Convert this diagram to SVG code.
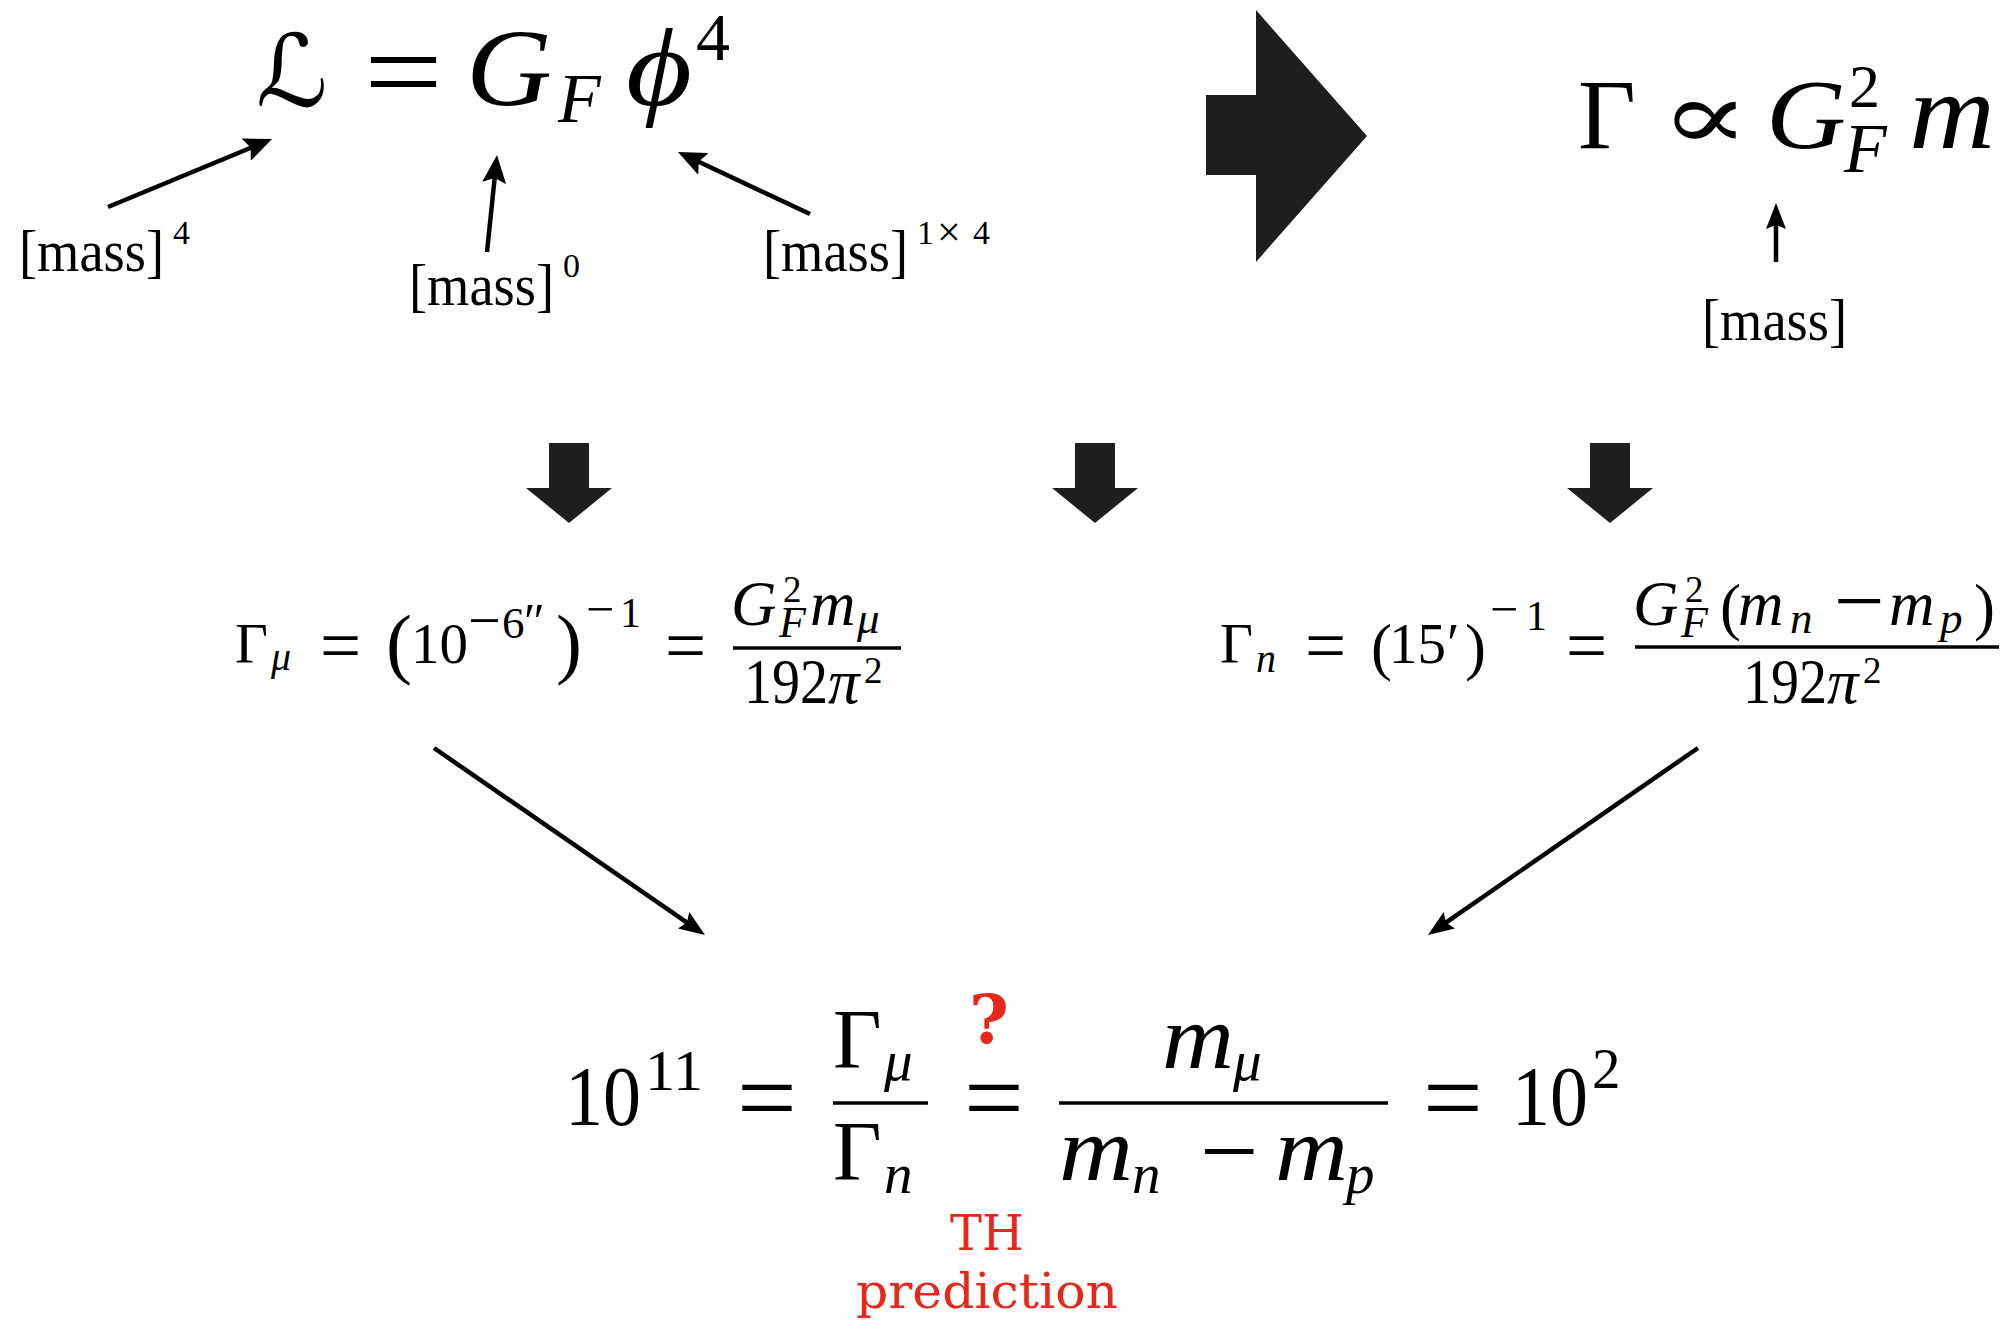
<svg xmlns="http://www.w3.org/2000/svg" width="2006" height="1320" viewBox="0 0 2006 1320" font-family="'Liberation Serif', 'DejaVu Serif', serif">
<style>
text{font-family:'Liberation Serif','DejaVu Serif',serif;fill:#000}
.it{font-style:italic}
.sc{font-family:'DejaVu Serif','DejaVu Sans',serif}
.red{font-family:'DejaVu Serif',serif;fill:#e6281b}
.big{fill:#1e1e1e}
.ln{stroke:#000;stroke-width:4.5;fill:none}
.bar{stroke:#000;stroke-width:3.5}
</style>
<defs>
<marker id="ah" markerUnits="userSpaceOnUse" viewBox="0 0 28 24" refX="18" refY="12" markerWidth="28" markerHeight="24" orient="auto">
<path d="M0,0 L28,12 L0,24 L5,12 z" fill="#000"/>
</marker>
<marker id="ahs" markerUnits="userSpaceOnUse" viewBox="0 0 26 20" refX="16" refY="10" markerWidth="26" markerHeight="20" orient="auto">
<path d="M0,0 L26,10 L0,20 L4,10 z" fill="#000"/>
</marker>
</defs>
<rect width="2006" height="1320" fill="#fff"/>

<g id="lagrangian" font-family="Liberation Serif">
<text class="sc" x="256" y="106" font-size="100">ℒ</text>
<text x="364" y="112" font-size="120" textLength="79" lengthAdjust="spacingAndGlyphs">=</text>
<text class="it" x="466" y="105" font-size="110" textLength="86" lengthAdjust="spacingAndGlyphs">G</text>
<text class="it" x="558" y="122" font-size="70">F</text>
<text class="it" x="626" y="105" font-size="110" textLength="66" lengthAdjust="spacingAndGlyphs">ϕ</text>
<text x="696" y="60" font-size="68">4</text>
</g>

<g id="label-mass4" font-family="Liberation Serif">
<text x="19" y="271" font-size="60" textLength="145" lengthAdjust="spacingAndGlyphs">[mass]</text>
<text x="173" y="244" font-size="34">4</text>
</g>
<g id="label-mass0" font-family="Liberation Serif">
<text x="409" y="305" font-size="60" textLength="145" lengthAdjust="spacingAndGlyphs">[mass]</text>
<text x="563" y="277" font-size="34">0</text>
</g>
<g id="label-mass1x4" font-family="Liberation Serif">
<text x="763" y="271" font-size="60" textLength="145" lengthAdjust="spacingAndGlyphs">[mass]</text>
<text x="917" y="244" font-size="34">1</text>
<text x="937" y="246" font-size="42">×</text>
<text x="973" y="244" font-size="34">4</text>
</g>

<g id="big-right-arrow">
<polygon class="big" points="1206,95 1256,95 1256,10 1367,136 1256,262 1256,175 1206,175"/>
</g>

<g id="width-scaling" font-family="Liberation Serif">
<text x="1578" y="148" font-size="100">Γ</text>
<text class="sc" x="1660" y="149" font-size="96" textLength="90" lengthAdjust="spacingAndGlyphs">∝</text>
<text class="it" x="1766" y="148" font-size="100" textLength="80" lengthAdjust="spacingAndGlyphs">G</text>
<text x="1849" y="107" font-size="62">2</text>
<text class="it" x="1844" y="172" font-size="70">F</text>
<text class="it" x="1909" y="148" font-size="108" textLength="86" lengthAdjust="spacingAndGlyphs">m</text>
</g>
<g id="label-mass" font-family="Liberation Serif">
<text x="1702" y="340" font-size="60" textLength="145" lengthAdjust="spacingAndGlyphs">[mass]</text>
</g>

<g id="down-arrows">
<polygon class="big" points="549,443 589,443 589,488 612,488 569,523 526,488 549,488"/>
<polygon class="big" points="1075,443 1115,443 1115,488 1138,488 1095,523 1052,488 1075,488"/>
<polygon class="big" points="1590,443 1630,443 1630,488 1653,488 1610,523 1567,488 1590,488"/>
</g>

<g id="muon-width" font-family="Liberation Serif">
<text x="235" y="663" font-size="57">Γ</text>
<text class="it" x="271" y="670" font-size="40">μ</text>
<text x="320" y="670" font-size="73">=</text>
<text x="386" y="669" font-size="78">(</text>
<text x="411" y="663" font-size="57">10</text>
<text x="468" y="640" font-size="58">−</text>
<text x="502" y="638" font-size="45">6</text>
<text x="524" y="638" font-size="50">″</text>
<text x="556" y="669" font-size="78">)</text>
<text x="586" y="626" font-size="50">−</text>
<text x="620" y="627" font-size="42">1</text>
<text x="665" y="670" font-size="73">=</text>
<line class="bar" x1="733" y1="648" x2="901" y2="648"/>
<text class="it" x="731" y="625" font-size="63">G</text>
<text x="783" y="602" font-size="37">2</text>
<text class="it" x="779" y="637" font-size="44">F</text>
<text class="it" x="810" y="625" font-size="63">m</text>
<text class="it" x="857" y="633" font-size="45">μ</text>
<text x="744" y="703" font-size="63" textLength="84" lengthAdjust="spacingAndGlyphs">192</text>
<text class="it" x="828" y="703" font-size="63">π</text>
<text x="864" y="683" font-size="37">2</text>
</g>

<g id="neutron-width" font-family="Liberation Serif">
<text x="1220" y="663" font-size="57">Γ</text>
<text class="it" x="1256" y="672" font-size="40">n</text>
<text x="1305" y="670" font-size="73">=</text>
<text x="1371" y="668" font-size="63">(</text>
<text x="1389" y="663" font-size="57">15</text>
<text x="1447" y="663" font-size="57">′</text>
<text x="1465" y="668" font-size="63">)</text>
<text x="1490" y="626" font-size="50">−</text>
<text x="1526" y="630" font-size="42">1</text>
<text x="1566" y="670" font-size="73">=</text>
<line class="bar" x1="1635" y1="647" x2="1999" y2="647"/>
<text class="it" x="1633" y="625" font-size="63">G</text>
<text x="1685" y="602" font-size="37">2</text>
<text class="it" x="1681" y="637" font-size="44">F</text>
<text x="1720" y="628" font-size="63">(</text>
<text class="it" x="1738" y="625" font-size="63">m</text>
<text class="it" x="1790" y="633" font-size="45">n</text>
<text x="1834" y="631" font-size="90">−</text>
<text class="it" x="1889" y="625" font-size="63">m</text>
<text class="it" x="1940" y="633" font-size="45">p</text>
<text x="1974" y="628" font-size="63">)</text>
<text x="1743" y="703" font-size="63" textLength="84" lengthAdjust="spacingAndGlyphs">192</text>
<text class="it" x="1827" y="703" font-size="63">π</text>
<text x="1863" y="683" font-size="37">2</text>
</g>

<g id="ratio" font-family="Liberation Serif">
<text x="565" y="1125" font-size="84" textLength="76" lengthAdjust="spacingAndGlyphs">10</text>
<text x="645" y="1090" font-size="57" textLength="58" lengthAdjust="spacingAndGlyphs">11</text>
<text x="737" y="1133" font-size="106">=</text>
<line class="bar" x1="833" y1="1103" x2="928" y2="1103"/>
<text x="833" y="1068" font-size="84">Γ</text>
<text class="it" x="884" y="1080" font-size="57">μ</text>
<text x="833" y="1180" font-size="84">Γ</text>
<text class="it" x="884" y="1193" font-size="57">n</text>
<text x="964" y="1133" font-size="106">=</text>
<text class="it" x="1162" y="1068" font-size="90" textLength="72" lengthAdjust="spacingAndGlyphs">m</text>
<text class="it" x="1233" y="1080" font-size="57">μ</text>
<line class="bar" x1="1059" y1="1103" x2="1388" y2="1103"/>
<text class="it" x="1059" y="1180" font-size="90" textLength="74" lengthAdjust="spacingAndGlyphs">m</text>
<text class="it" x="1132" y="1193" font-size="57">n</text>
<text x="1200" y="1186" font-size="104">−</text>
<text class="it" x="1275" y="1180" font-size="90" textLength="73" lengthAdjust="spacingAndGlyphs">m</text>
<text class="it" x="1346" y="1193" font-size="57">p</text>
<text x="1423" y="1133" font-size="106">=</text>
<text x="1512" y="1125" font-size="84" textLength="76" lengthAdjust="spacingAndGlyphs">10</text>
<text x="1592" y="1088" font-size="57">2</text>
</g>

<g id="th-prediction">
<text class="red" x="989" y="1043" font-size="68" font-weight="bold" text-anchor="middle">?</text>
<text class="red" x="987" y="1250" font-size="48" text-anchor="middle">TH</text>
<text class="red" x="987" y="1308" font-size="48" text-anchor="middle" textLength="262" lengthAdjust="spacingAndGlyphs">prediction</text>
</g>

<g id="connectors">
<line class="ln" x1="108" y1="207" x2="262.8" y2="142.8" marker-end="url(#ah)"/>
<line class="ln" x1="487" y1="252" x2="496" y2="165" marker-end="url(#ah)"/>
<line class="ln" x1="810" y1="214" x2="687" y2="156.3" marker-end="url(#ah)"/>
<line class="ln" x1="1776" y1="262" x2="1776" y2="213" stroke-width="4" marker-end="url(#ahs)"/>
<line class="ln" x1="434" y1="748" x2="696.8" y2="929.3" stroke-width="4" marker-end="url(#ahs)"/>
<line class="ln" x1="1698" y1="748" x2="1436.2" y2="929.3" stroke-width="4" marker-end="url(#ahs)"/>
</g>
</svg>
